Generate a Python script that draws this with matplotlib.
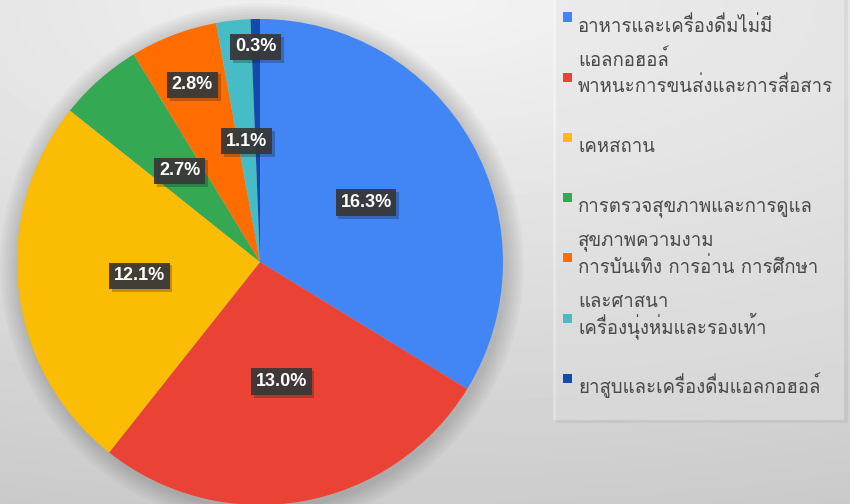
import matplotlib

matplotlib.use("Agg")
import matplotlib.pyplot as plt
import matplotlib.patheffects as pe
import numpy as np
from matplotlib.patches import Circle, Rectangle

# household spending shares (%)
categories = [
    "อาหารและเครื่องดื่มไม่มี\nแอลกอฮอล์",
    "พาหนะการขนส่งและการสื่อสาร",
    "เคหสถาน",
    "การตรวจสุขภาพและการดูแล\nสุขภาพความงาม",
    "การบันเทิง การอ่าน การศึกษา\nและศาสนา",
    "เครื่องนุ่งห่มและรองเท้า",
    "ยาสูบและเครื่องดื่มแอลกอฮอล์",
]
shares = [16.3, 13.0, 12.1, 2.7, 2.8, 1.1, 0.3]
pct_labels = ["16.3%", "13.0%", "12.1%", "2.7%", "2.8%", "1.1%", "0.3%"]

colors = ["#4285F4", "#EA4335", "#FBBC04", "#34A853", "#FF6D01", "#46BDC6", "#0F4CAD"]
label_r = [0.5, 0.5, 0.5, 0.5, 0.78, 0.5, 0.885]

W, H = 850, 504
THAI = ["Loma", "Noto Sans Thai Looped", "DejaVu Sans"]


def fx(x):
    return x / W


def fy(y):
    return 1 - y / H


fig = plt.figure(figsize=(W / 100, H / 100), dpi=100)

# soft radial background
bg = fig.add_axes([0, 0, 1, 1])
yy, xx = np.mgrid[0:H, 0:W]
d = np.sqrt(((xx - 430) / 1340.0) ** 2 + (yy / 553.0) ** 2)
bg.imshow(0.955 - 0.17 * d, cmap="gray", vmin=0, vmax=1, aspect="auto",
          extent=[0, W, H, 0], interpolation="bilinear")
bg.set_xlim(0, W); bg.set_ylim(H, 0)
bg.axis("off")

# legend panel with a faint shadow
fig.add_artist(Rectangle((fx(556), fy(423)), fx(292), 430 / H, transform=fig.transFigure,
                         fc="black", ec="none", alpha=0.05))
fig.add_artist(Rectangle((fx(553), fy(420)), fx(291), 430 / H, transform=fig.transFigure,
                         fc="white", ec="none", alpha=0.3))

# pie
cx, cy, r = 260, 262, 243
ax = fig.add_axes([fx(cx - r), fy(cy + r), fx(2 * r), 2 * r / H])
ax.set_xlim(-1, 1); ax.set_ylim(-1, 1)
ax.set_aspect("equal")
ax.axis("off")
for k in range(7):
    ax.add_patch(Circle((0.008, -0.012), 1.0 + 0.011 * (k + 1), fc="black", ec="none",
                        alpha=0.022, zorder=0, clip_on=False))
wedges, _ = ax.pie(shares, colors=colors, startangle=90, counterclock=False, radius=1,
                   wedgeprops=dict(linewidth=0), frame=False)
ax.set_xlim(-1, 1); ax.set_ylim(-1, 1)

for w, lab, lr in zip(wedges, pct_labels, label_r):
    th = np.deg2rad((w.theta1 + w.theta2) / 2)
    t = ax.text(lr * np.cos(th), lr * np.sin(th), lab, ha="center", va="center",
                color="white", fontsize=13, fontweight="bold", family="Liberation Sans",
                bbox=dict(boxstyle="square,pad=0.26", fc="#383838", ec="none", alpha=0.93),
                zorder=5)
    t.get_bbox_patch().set_path_effects([pe.SimplePatchShadow(offset=(2, -2), alpha=0.25),
                                         pe.Normal()])

# legend entries (long labels wrap and run into the next row)
for i, (name, c) in enumerate(zip(categories, colors)):
    yc = 17 + 60.2 * i
    fig.add_artist(Rectangle((fx(563), fy(yc + 4.5)), fx(9), 9 / H, transform=fig.transFigure,
                             fc=c, ec="none"))
    for j, line in enumerate(name.split("\n")):
        fig.text(fx(578), fy(yc + 15 + 34 * j), line, ha="left", va="baseline",
                 fontsize=13.4, color="#4a4a4a", family=THAI)

fig.savefig("out.png", dpi=100)
